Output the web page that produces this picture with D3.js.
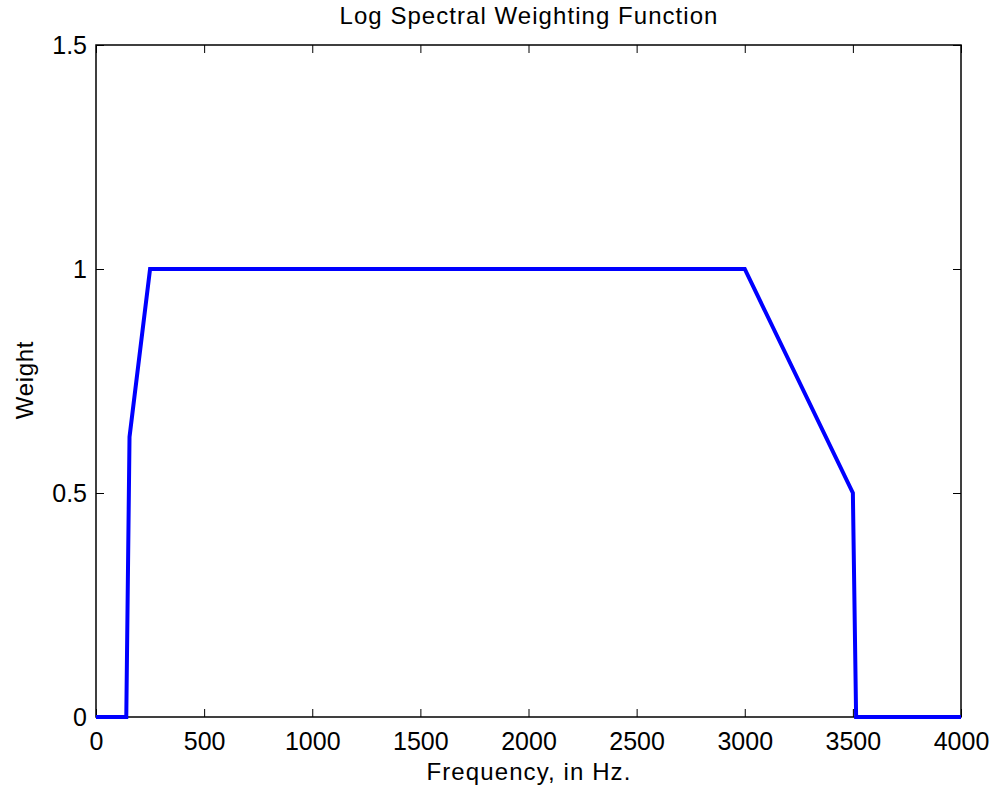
<!DOCTYPE html>
<html><head><meta charset="utf-8">
<script src="https://cdn.jsdelivr.net/npm/d3@7"></script>
<style>body{margin:0;background:#fff}text{font-family:"Liberation Sans",Arial,sans-serif}</style>
</head><body><svg id="c" width="998" height="793"></svg>
<script>
const freqs   = [0, 140, 155, 250, 3000, 3500, 3515, 4000];
const weights = [0, 0, 0.625, 1, 1, 0.5, 0, 0];
const xTicks = [0, 500, 1000, 1500, 2000, 2500, 3000, 3500, 4000];
const yTicks = [0, 0.5, 1, 1.5];
const yTickLabels = ["0", "0.5", "1", "1.5"];

const svg = d3.select("#c");
const L = 96, R = 961, T = 45, B = 717;
const x = d3.scaleLinear().domain([0, 4000]).range([L, R]);
const y = d3.scaleLinear().domain([0, 1.5]).range([B, T]);
const fs = 25;

svg.append("rect").attr("x",0).attr("y",0).attr("width",998).attr("height",793).attr("fill","#fff");

const g = svg.append("g");
g.append("g").attr("transform",`translate(0,${B})`)
  .call(d3.axisBottom(x).tickValues(xTicks).tickFormat(d3.format("d")).tickSizeInner(-8).tickSizeOuter(0).tickPadding(15))
  .call(s=>{s.select(".domain").remove();s.selectAll("text").attr("font-size",fs).attr("fill","#000").attr("font-family",null);});
g.append("g").attr("transform",`translate(0,${T})`)
  .call(d3.axisTop(x).tickValues(xTicks).tickFormat("").tickSizeInner(-8).tickSizeOuter(0))
  .call(s=>s.select(".domain").remove());
g.append("g").attr("transform",`translate(${L},0)`)
  .call(d3.axisLeft(y).tickValues(yTicks).tickFormat((d,i)=>yTickLabels[i]).tickSizeInner(-8).tickSizeOuter(0).tickPadding(9))
  .call(s=>{s.select(".domain").remove();s.selectAll("text").attr("font-size",fs).attr("fill","#000").attr("font-family",null);});
g.append("g").attr("transform",`translate(${R},0)`)
  .call(d3.axisRight(y).tickValues(yTicks).tickFormat("").tickSizeInner(-8).tickSizeOuter(0))
  .call(s=>s.select(".domain").remove());
g.selectAll(".tick line").attr("stroke","#000");

svg.append("rect").attr("x",L).attr("y",T).attr("width",R-L).attr("height",B-T)
  .attr("fill","none").attr("stroke","#000").attr("stroke-width",1.5);

const data = freqs.map((f,i)=>[f, weights[i]]);
svg.append("path").datum(data)
  .attr("d", d3.line().x(d=>x(d[0])).y(d=>y(d[1])))
  .attr("fill","none").attr("stroke","#0000ff").attr("stroke-width",4).attr("stroke-linejoin","miter");

svg.append("text").attr("x",(L+R)/2+0.5).attr("y",23.5).attr("text-anchor","middle").attr("font-size",24).attr("letter-spacing",1.05).text("Log Spectral Weighting Function");
svg.append("text").attr("x",(L+R)/2+0.5).attr("y",780).attr("text-anchor","middle").attr("font-size",24).attr("letter-spacing",1.1).text("Frequency, in Hz.");
svg.append("text").attr("transform",`translate(33,${(T+B)/2 - 1}) rotate(-90)`).attr("text-anchor","middle").attr("font-size",24).attr("letter-spacing",0.7).text("Weight");
</script></body></html>
